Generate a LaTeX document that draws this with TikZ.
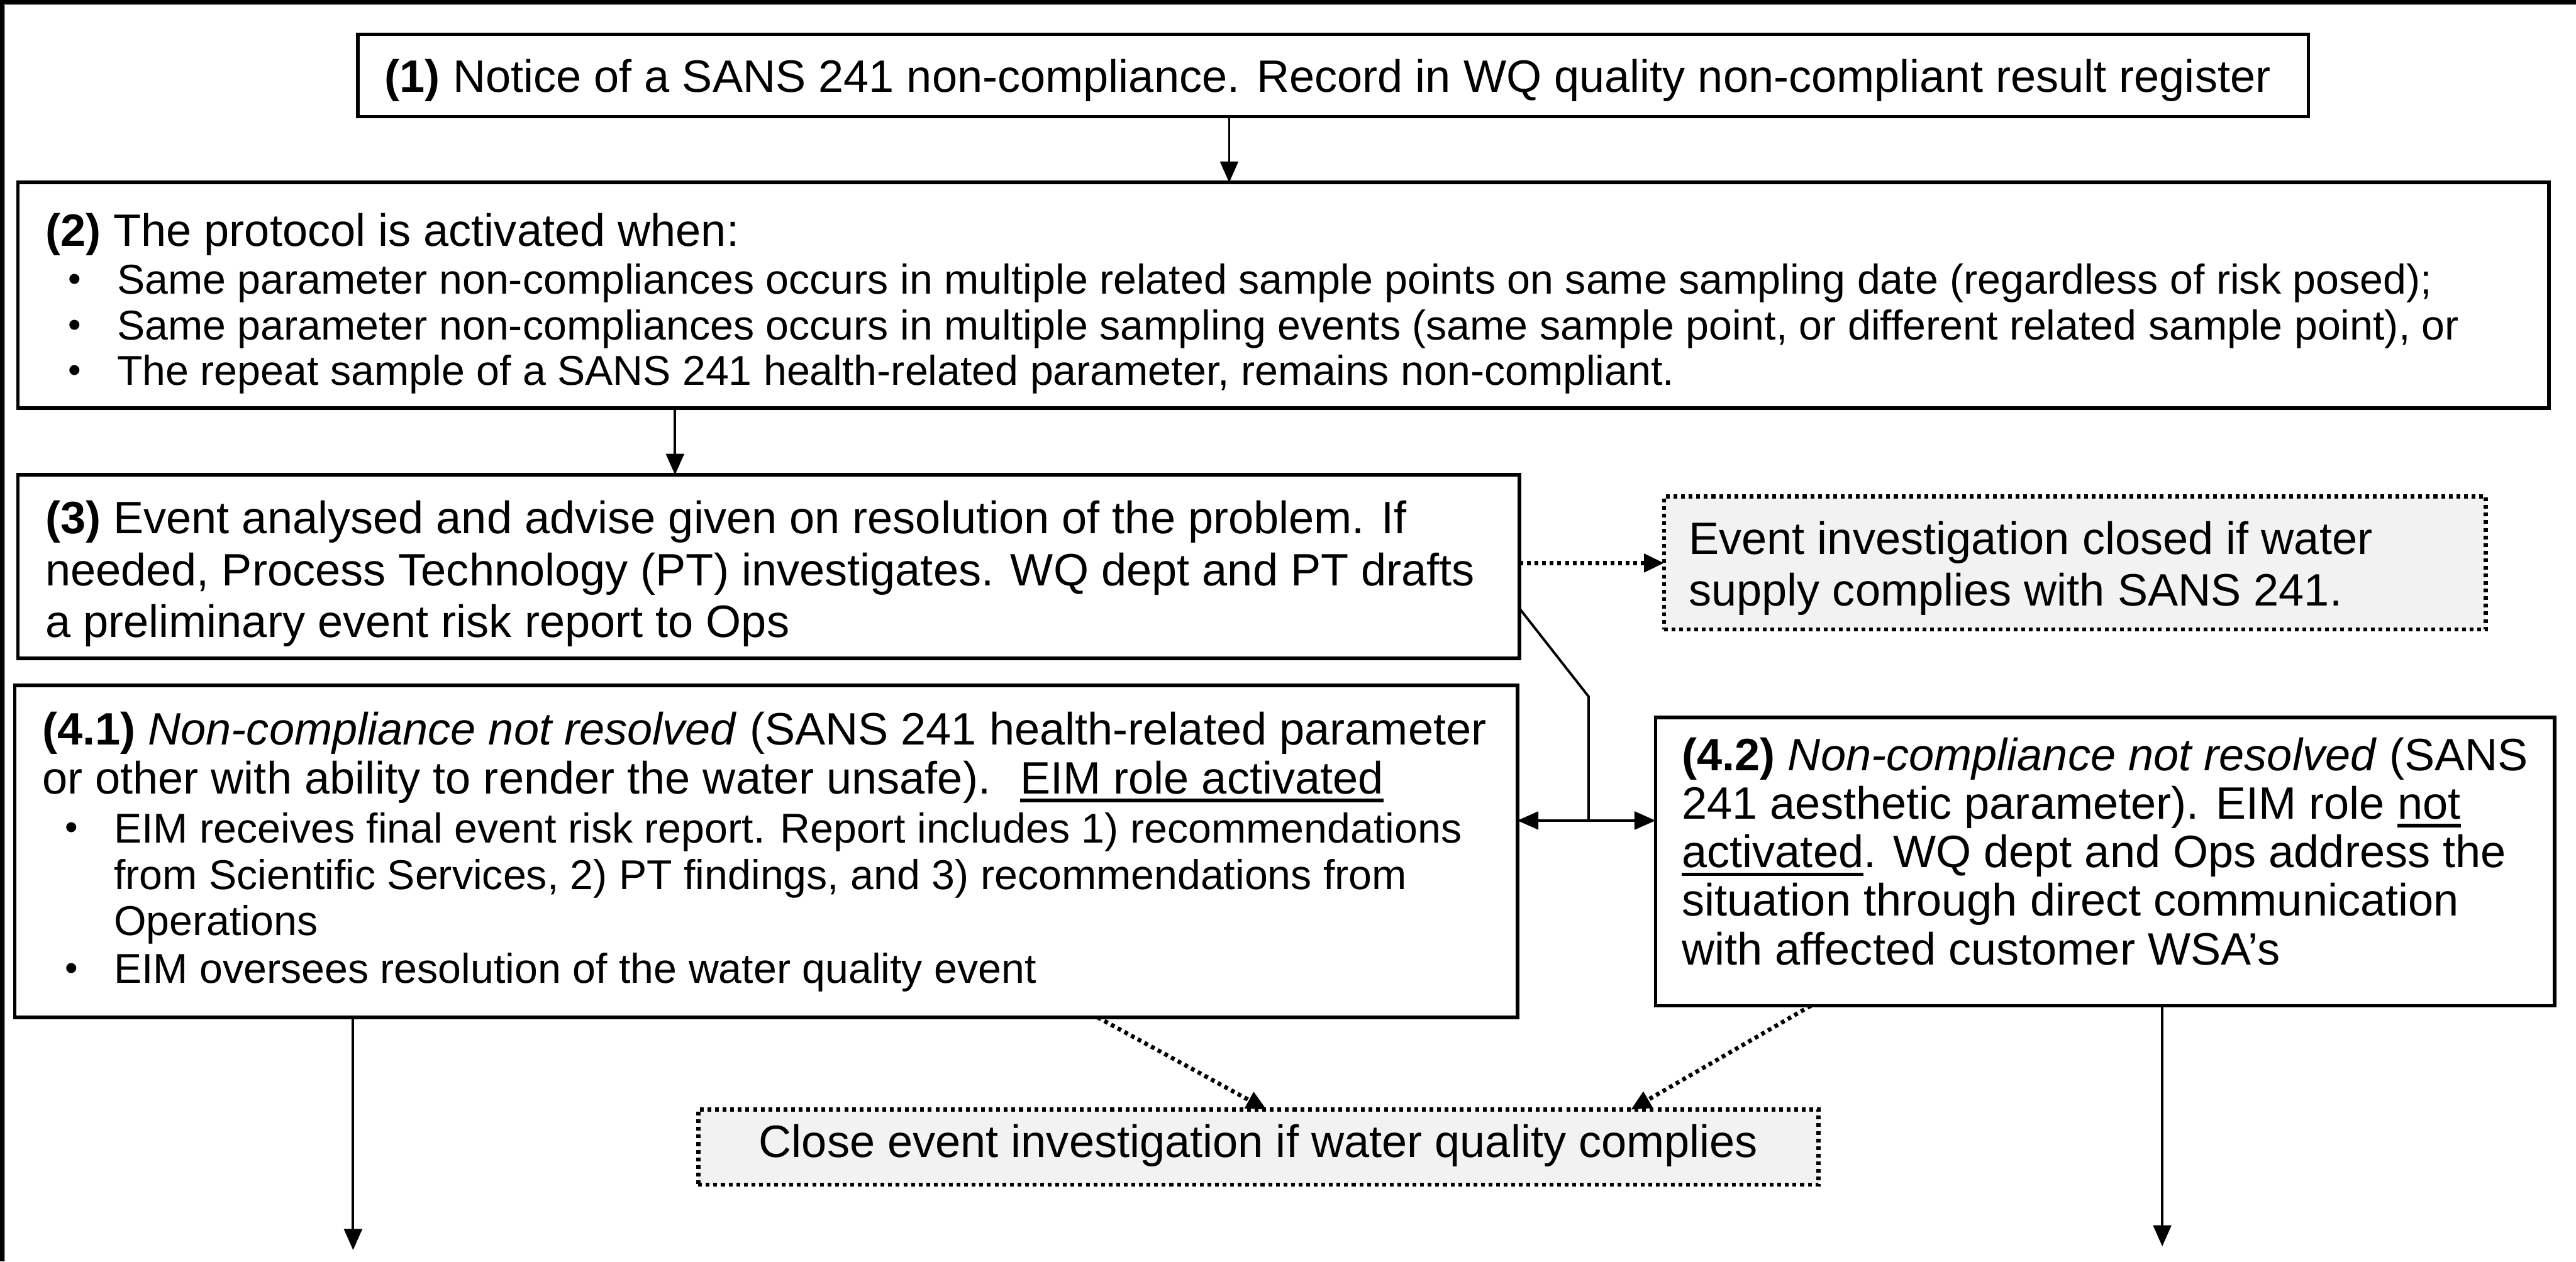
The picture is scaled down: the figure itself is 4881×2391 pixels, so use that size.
\documentclass[tikz,border=0pt]{standalone}
\usepackage{fontspec}
\setmainfont{Liberation Sans}
\usetikzlibrary{arrows.meta,fit}
\definecolor{graybg}{HTML}{F2F2F2}
\newcommand\myul[1]{\leavevmode\setbox0=\hbox{#1}\rlap{\rule[-0.19em]{\wd0}{0.08em}}\box0}
\newcommand\mybullet{\raisebox{2.5pt}{\textbullet}}
\tikzset{
  box/.style={draw=black, line width=3.4pt, inner sep=0pt, outer sep=0pt, fill=white},
  dbox/.style={draw=black, line width=4pt, dash pattern=on 3.6pt off 3.6pt, fill=graybg, inner sep=0pt, outer sep=0pt},
  conn/.style={draw=black, line width=2.3pt},
  arr/.style={conn, -{Triangle[length=20pt,width=17pt]}},
  darr/.style={conn, line width=4pt, dash pattern=on 3.6pt off 3.6pt, -{Triangle[length=19pt,width=17pt]}},
  t12/.style={anchor=base west, inner sep=0pt, outer sep=0pt, font=\fontsize{43pt}{49pt}\selectfont},
  t11/.style={anchor=base west, inner sep=0pt, outer sep=0pt, font=\fontsize{39.5pt}{45pt}\selectfont},
  bul/.style={anchor=base, inner sep=0pt, outer sep=0pt, font=\fontsize{35pt}{40pt}\selectfont},
}
\begin{document}
\begin{tikzpicture}[x=0.5pt, y=-0.5pt]
\useasboundingbox (0,0) rectangle (4881,2391);
\fill[white] (0,0) rectangle (4881,2391);
% frame (top and left)
\draw[line width=3.5pt, black] (3.5,2391) -- (3.5,3.5) -- (4881,3.5);
\draw[line width=1.5pt, black!55] (8.5,2391) -- (8.5,8.5) -- (4881,8.5);

% boxes
\node[box, fit={(678,65) (4374,221)}] (b1) {};
\node[box, fit={(34,346) (4830,773)}] (b2) {};
\node[box, fit={(34,900) (2879,1248)}] (b3) {};
\node[dbox, fit={(3153,941) (4710,1193)}] (ev) {};
\node[box, fit={(28,1299) (2875,1928)}] (b41) {};
\node[box, fit={(3137,1360) (4840,1906)}] (b42) {};
\node[dbox, fit={(1323,2103) (3446,2245)}] (cl) {};

% box 1 text
\node[t12] (t1) at (729,174) {\textbf{(1)} Notice of a SANS 241 non-compliance. Record in WQ quality non-compliant result register};

% box 2 text
\node[t12] (t2h) at (86,466) {\textbf{(2)} The protocol is activated when:};
\node[bul] (t2b1) at (141,557) {\mybullet};
\node[t11] (t2l1) at (222,557) {Same parameter non-compliances occurs in multiple related sample points on same sampling date (regardless of risk posed);};
\node[bul] (t2b2) at (141,644) {\mybullet};
\node[t11] (t2l2) at (222,644) {Same parameter non-compliances occurs in multiple sampling events (same sample point, or different related sample point), or};
\node[bul] (t2b3) at (141,730) {\mybullet};
\node[t11] (t2l3) at (222,730) {The repeat sample of a SANS 241 health-related parameter, remains non-compliant.};

% box 3 text
\node[t12] (t3a) at (86,1011) {\textbf{(3)} Event analysed and advise given on resolution of the problem. If};
\node[t12] (t3b) at (86,1110) {needed, Process Technology (PT) investigates. WQ dept and PT drafts};
\node[t12] (t3c) at (86,1208) {a preliminary event risk report to Ops};

% event closed box text
\node[t12] (tea) at (3200,1050) {Event investigation closed if water};
\node[t12] (teb) at (3200,1148) {supply complies with SANS 241.};

% box 4.1 text
\node[t12] (t41a) at (80,1412) {\textbf{(4.1)} \textit{Non-compliance not resolved} (SANS 241 health-related parameter};
\node[t12] (t41b) at (80,1504) {or other with ability to render the water unsafe).~ \myul{EIM role activated}};
\node[bul] (t41d1) at (135,1597) {\mybullet};
\node[t11] (t41c) at (216,1597) {EIM receives final event risk report. Report includes 1) recommendations};
\node[t11] (t41d) at (216,1685) {from Scientific Services, 2) PT findings, and 3) recommendations from};
\node[t11] (t41e) at (216,1772) {Operations};
\node[bul] (t41d2) at (135,1863) {\mybullet};
\node[t11] (t41f) at (216,1863) {EIM oversees resolution of the water quality event};

% box 4.2 text
\node[t12] (t42a) at (3187,1460) {\textbf{(4.2)} \textit{Non-compliance not resolved} (SANS};
\node[t12] (t42b) at (3187,1552) {241 aesthetic parameter). EIM role \myul{not}};
\node[t12] (t42c) at (3187,1644) {\myul{activated}. WQ dept and Ops address the};
\node[t12] (t42d) at (3187,1736) {situation through direct communication};
\node[t12] (t42e) at (3187,1828) {with affected customer WSA’s};

% close box text
\node[t12, anchor=base] (tcl) at (2384.5,2193) {Close event investigation if water quality complies};

% helper coordinates
\coordinate (x2329) at (2329,0);
\coordinate (x1279) at (1279,0);
\coordinate (y1067) at (0,1067);
\coordinate (y1153) at (0,1153);
\coordinate (j1) at (3010,1320);
\coordinate (j2) at (3010,1555);
\coordinate (x2080) at (2080,0);
\coordinate (x2400) at (2400,0);
\coordinate (x3431) at (3431,0);
\coordinate (x3090) at (3090,0);
\coordinate (x669) at (669,0);
\coordinate (x4097) at (4097,0);
\coordinate (e1) at (669,2369);
\coordinate (e2) at (4097,2362);

% connectors
\draw[arr] (b1.south -| x2329) -- (b2.north -| x2329);
\draw[arr] (b2.south -| x1279) -- (b3.north -| x1279);
\draw[darr] (b3.east |- y1067) -- (ev.west |- y1067);
\draw[conn] (b3.east |- y1153) -- (j1) -- (j2);
\draw[conn, {Triangle[length=20pt,width=17pt]}-{Triangle[length=20pt,width=17pt]}] (b41.east |- j2) -- (b42.west |- j2);
\draw[darr] (b41.south -| x2080) -- (cl.north -| x2400);
\draw[darr] (b42.south -| x3431) -- (cl.north -| x3090);
\draw[arr] (b41.south -| x669) -- (e1);
\draw[arr] (b42.south -| x4097) -- (e2);
\end{tikzpicture}
\end{document}
